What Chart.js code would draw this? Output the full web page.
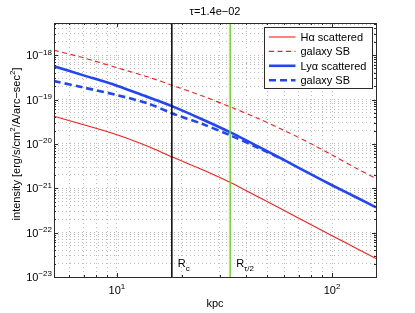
<!DOCTYPE html>
<html>
<head>
<meta charset="utf-8">
<script src="https://cdn.jsdelivr.net/npm/chart.js@4.4.1/dist/chart.umd.min.js"></script>
<style>
  html, body { margin: 0; padding: 0; background: #fff; }
  canvas { display: block; }
</style>
</head>
<body>
<canvas id="chart" width="415" height="313"></canvas>
<script>
// radius in kpc and surface brightness in erg/s/cm^2/A/arcsec^2
const radiusKpc    = [5.1, 7, 10, 14, 18, 25, 33.7, 45, 60, 80, 100, 130, 160];
const haScattered  = [4.2e-20, 2.7e-20, 1.6e-20, 8.7e-21, 5.1e-21, 2.62e-21, 1.35e-21, 6.5e-22, 3.15e-22, 1.5e-22, 8.5e-23, 4.4e-23, 2.6e-23];
const haGalaxySB   = [1.29e-18, 8.7e-19, 5.2e-19, 3.2e-19, 2.1e-19, 1.2e-19, 6.8e-20, 3.8e-20, 2.0e-20, 1.0e-20, 5.6e-21, 2.8e-21, 1.66e-21];
const lyaScattered = [5.6e-19, 3.5e-19, 2.05e-19, 1.12e-19, 7.1e-20, 3.55e-20, 1.82e-20, 8.9e-21, 4.3e-21, 2.05e-21, 1.17e-21, 6.2e-22, 3.7e-22];
const lyaGalaxySB  = [2.6e-19, 1.86e-19, 1.26e-19, 8.1e-20, 4.9e-20, 2.8e-20, 1.55e-20, 8.3e-21, 4.3e-21, null, null, null, null];

const seriesLabels = ['H\u03b1 scattered', 'galaxy SB', 'Ly\u03b1 scattered', 'galaxy SB'];
const markerX = [18, 33.6];          // R_c and R_tau/2
const markerSub = ['c', '\u03c4/2'];

const xRange = [5.1, 160];
const yRange = [1e-23, 5.3e-18];
const xTickExponents = [1, 2];
const yTickExponents = [-23, -22, -21, -20, -19, -18];
const titleText = '\u03c4=1.4e\u221202';
const xTitle = 'kpc';
const yTitle = [['intensity [erg/s/cm'], ['2', 'sup'], ['/A/arc\u2212sec'], ['2', 'sup'], [']']];

const FONT = '"Liberation Sans", Arial, Helvetica, sans-serif';
const AXIS = '#2b2b2b';

// grid at 1..9 x 10^n inside the range
function logGrid(lo, hi) {
  const out = [];
  for (let e = Math.floor(Math.log10(lo)); e <= Math.ceil(Math.log10(hi)); e++) {
    for (let m = 1; m <= 9; m++) {
      const v = m * Math.pow(10, e);
      if (v >= lo && v <= hi) out.push(v);
    }
  }
  return out;
}
const isDecade = v => Math.abs(Math.log10(v) - Math.round(Math.log10(v))) < 1e-9;

const pts = ys => radiusKpc.map((x, i) => ({ x, y: ys[i] }));

// text with super/subscript pieces
function richText(ctx, parts, x, y, align, size) {
  const small = Math.round(size * 0.72);
  const fontOf = p => `${p[1] ? small : size}px ${FONT}`;
  const widths = parts.map(p => { ctx.font = fontOf(p); return ctx.measureText(p[0]).width; });
  const total = widths.reduce((a, b) => a + b, 0);
  let cx = align === 'center' ? x - total / 2 : align === 'right' ? x - total : x;
  ctx.textAlign = 'left';
  ctx.textBaseline = 'alphabetic';
  parts.forEach((p, i) => {
    ctx.font = fontOf(p);
    const dy = p[1] === 'sup' ? -size * 0.42 : p[1] === 'sub' ? size * 0.4 : 0;
    ctx.fillText(p[0], cx, y + dy);
    cx += widths[i];
  });
}

const decorations = {
  id: 'decorations',
  afterDraw(chart) {
    const { ctx, chartArea: { left, right, top, bottom } } = chart;
    const xs = chart.scales.x, ys = chart.scales.y;
    ctx.save();
    ctx.fillStyle = '#000';

    // box and inward ticks
    ctx.strokeStyle = AXIS;
    ctx.lineWidth = 1;
    ctx.setLineDash([]);
    ctx.beginPath();
    xs.ticks.forEach(t => {
      const px = Math.round(xs.getPixelForValue(t.value)) + 0.5;
      const len = isDecade(t.value) ? 4 : 2;
      ctx.moveTo(px, bottom); ctx.lineTo(px, bottom - len);
      ctx.moveTo(px, top); ctx.lineTo(px, top + len);
    });
    ys.ticks.forEach(t => {
      const py = Math.round(ys.getPixelForValue(t.value)) + 0.5;
      const len = isDecade(t.value) ? 4 : 2;
      ctx.moveTo(left, py); ctx.lineTo(left + len, py);
      ctx.moveTo(right, py); ctx.lineTo(right - len, py);
    });
    ctx.stroke();
    ctx.strokeRect(left + 0.5, top + 0.5, right - left, bottom - top);

    // tick labels
    yTickExponents.forEach(e => {
      const py = ys.getPixelForValue(Math.pow(10, e));
      richText(ctx, [['10'], [String(e).replace('-', '\u2212'), 'sup']], left - 2, py + 4, 'right', 11);
    });
    xTickExponents.forEach(e => {
      const px = xs.getPixelForValue(Math.pow(10, e));
      richText(ctx, [['10'], [String(e), 'sup']], px, bottom + 17, 'center', 11);
    });

    // titles
    const cx = (left + right) / 2;
    richText(ctx, [[titleText]], cx, 15, 'center', 11);
    richText(ctx, [[xTitle]], cx, 307, 'center', 11);
    ctx.save();
    ctx.translate(19.5, (top + bottom) / 2 - 6);
    ctx.rotate(-Math.PI / 2);
    richText(ctx, yTitle, 0, 0, 'center', 11);
    ctx.restore();

    // marker labels
    markerX.forEach((x, i) => {
      const px = xs.getPixelForValue(x);
      richText(ctx, [['R'], [markerSub[i], 'sub']], px + 6, bottom - 10, 'left', 11);
    });

    // legend
    const lx0 = 264.5, lx1 = right - 3.5, ly0 = top + 4.5, ly1 = top + 65.5;
    ctx.fillStyle = '#fff';
    ctx.fillRect(lx0, ly0, lx1 - lx0, ly1 - ly0);
    ctx.strokeStyle = AXIS;
    ctx.lineWidth = 1;
    ctx.strokeRect(lx0, ly0, lx1 - lx0, ly1 - ly0);
    chart.data.datasets.filter(d => d.label).forEach((d, i) => {
      const yy = ly0 + 9.5 + i * 14.4;
      ctx.strokeStyle = d.borderColor;
      ctx.lineWidth = d.borderWidth;
      ctx.setLineDash(d.borderDash || []);
      ctx.beginPath();
      ctx.moveTo(lx0 + 4.5, yy);
      ctx.lineTo(lx0 + 31, yy);
      ctx.stroke();
      ctx.setLineDash([]);
      ctx.fillStyle = '#000';
      richText(ctx, [[d.label]], lx0 + 36, yy + 4, 'left', 11);
    });
    ctx.restore();
  }
};

const RED = '#ff1a1a', BLUE = '#2346f5';

const datasets = [
  { label: seriesLabels[0], data: pts(haScattered), borderColor: RED, borderWidth: 1.1, order: 4 },
  { label: seriesLabels[1], data: pts(haGalaxySB), borderColor: RED, borderWidth: 1.1, borderDash: [5, 3.5], order: 3 },
  { label: seriesLabels[2], data: pts(lyaScattered), borderColor: BLUE, borderWidth: 2.6, order: 1 },
  { label: seriesLabels[3], data: pts(lyaGalaxySB), borderColor: BLUE, borderWidth: 2.6, borderDash: [7, 4], order: 2 },
  { label: '', data: [{ x: markerX[0], y: yRange[0] }, { x: markerX[0], y: yRange[1] }], borderColor: '#000', borderWidth: 1.5, order: 0 },
  { label: '', data: [{ x: markerX[1], y: yRange[0] }, { x: markerX[1], y: yRange[1] }], borderColor: '#5ce600', borderWidth: 1.5, order: 0 }
].map(d => Object.assign({ pointRadius: 0, fill: false, tension: 0.3 }, d));

const gridOpts = { color: '#bdbdbd', lineWidth: 1, drawTicks: false };

new Chart(document.getElementById('chart'), {
  type: 'line',
  data: { datasets },
  plugins: [decorations],
  options: {
    responsive: false,
    animation: false,
    events: [],
    layout: { padding: { left: 54, top: 23, right: 39, bottom: 36 } },
    plugins: { legend: { display: false }, tooltip: { enabled: false }, title: { display: false } },
    scales: {
      x: {
        type: 'logarithmic', min: xRange[0], max: xRange[1],
        afterBuildTicks: s => { s.ticks = logGrid(xRange[0], xRange[1]).map(value => ({ value })); },
        ticks: { display: false },
        grid: gridOpts,
        border: { display: false, dash: [1, 3] }
      },
      y: {
        type: 'logarithmic', min: yRange[0], max: yRange[1],
        afterBuildTicks: s => { s.ticks = logGrid(yRange[0], yRange[1]).map(value => ({ value })); },
        ticks: { display: false },
        grid: gridOpts,
        border: { display: false, dash: [1, 3] }
      }
    }
  }
});
</script>
</body>
</html>
